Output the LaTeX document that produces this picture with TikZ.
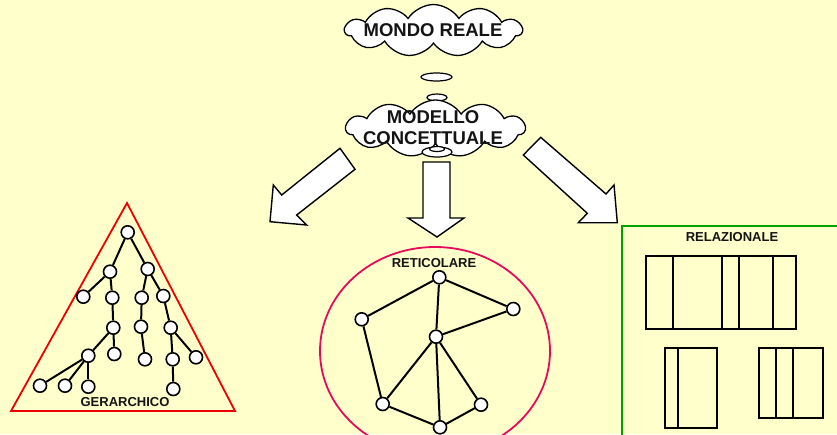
\documentclass[tikz,border=0pt]{standalone}
\usepackage{fontspec}
\setmainfont{Liberation Sans}
\usetikzlibrary{shapes.symbols,shapes.geometric}
\definecolor{bg}{RGB}{255,255,204}
\definecolor{tri}{RGB}{240,0,0}
\definecolor{ell}{RGB}{232,10,90}
\definecolor{grn}{RGB}{0,160,0}
\definecolor{ink}{RGB}{20,20,20}
\begin{document}
\begin{tikzpicture}[x=1pt,y=-1pt,
 cloudbox/.style={cloud, cloud puffs=11, cloud puff arc=115, cloud ignores aspect, draw=black, line width=1.3pt, fill=white, inner sep=0pt},
 bubble/.style={ellipse, draw=black, line width=1.2pt, fill=white, inner sep=0pt},
 bigtxt/.style={font=\fontsize{18.5}{21}\selectfont\bfseries, text=ink, align=center, inner sep=0pt},
 smalltxt/.style={font=\fontsize{13}{15}\selectfont\bfseries, text=ink, inner sep=0pt},
 blockarrow/.style={draw=black, line width=1.4pt, fill=white, line join=miter},
 vtx/.style={circle, draw=black, line width=1.6pt, fill=white, minimum size=13pt, inner sep=0pt},
 lnk/.style={line width=2pt, draw=black},
 tbl/.style={draw=black, line width=1.8pt}
]
\useasboundingbox (0,0) rectangle (837,434);
\clip (0,0) rectangle (837,434);
\fill[bg] (0,0) rectangle (837,434);

% clouds
\node[cloudbox, minimum width=177pt, minimum height=52pt] (c1) at (433.5,30.5) {};
\node[bigtxt] (t1) at (433,30) {MONDO REALE};
\node[bubble, minimum width=31pt, minimum height=8pt] (b1) at (436.5,77) {};
\node[bubble, minimum width=20pt, minimum height=7pt] (b2) at (437,97.5) {};
\node[cloudbox, minimum width=179pt, minimum height=57pt] (c2) at (435.5,128.5) {};
\node[bubble, minimum width=30pt, minimum height=10pt] (b3) at (437,152) {};
\node[bubble, minimum width=15pt, minimum height=5pt] (b4) at (437,149) {};
\node[bigtxt] (t2) at (433,127.5) {MODELLO\\CONCETTUALE};

% block arrows
\draw[blockarrow] (340,148.3) -- (355,169.3) -- (296.7,215) -- (306.7,225) -- (270,221.7)
  -- (273.3,185) -- (281.7,195) -- cycle;
\draw[blockarrow] (423,162) -- (450,162) -- (450,218) -- (464,218) -- (437,237)
  -- (408,218) -- (423,218) -- cycle;
\draw[blockarrow] (523.3,155) -- (540.7,137.3) -- (606,194) -- (614,185) -- (617.3,222.7)
  -- (578.3,222.7) -- (587.3,213.3) -- cycle;

% hierarchical
\draw[tri, line width=1.8pt, line join=miter] (127,203) -- (235,411) -- (11,411) -- cycle;
\node[smalltxt] (gl) at (125,402) {GERARCHICO};
\node[vtx] (r)  at (127.7,232.3) {};
\node[vtx] (a)  at (110,271.7) {};
\node[vtx] (b)  at (147.7,269) {};
\node[vtx] (a1) at (83.3,296.7) {};
\node[vtx] (a2) at (112.3,297.7) {};
\node[vtx] (b1n) at (141.7,297.7) {};
\node[vtx] (b2n) at (163.3,296) {};
\node[vtx] (a21) at (113.3,327.7) {};
\node[vtx] (b11) at (141,326.7) {};
\node[vtx] (b21) at (170.7,327.7) {};
\node[vtx] (a211) at (88.3,355.7) {};
\node[vtx] (a212) at (114.3,354) {};
\node[vtx] (b111) at (145,359.3) {};
\node[vtx] (b211) at (172.7,359.3) {};
\node[vtx] (b212) at (196,357.3) {};
\node[vtx] (l1) at (40,385.7) {};
\node[vtx] (l2) at (65,385.7) {};
\node[vtx] (l3) at (88.3,386.7) {};
\node[vtx] (l4) at (173.3,389) {};
\draw[lnk] (r) -- (a);
\draw[lnk] (r) -- (b);
\draw[lnk] (a) -- (a1);
\draw[lnk] (a) -- (a2);
\draw[lnk] (a2) -- (a21);
\draw[lnk] (a21) -- (a211);
\draw[lnk] (a21) -- (a212);
\draw[lnk] (a211) -- (l1);
\draw[lnk] (a211) -- (l2);
\draw[lnk] (a211) -- (l3);
\draw[lnk] (b) -- (b1n);
\draw[lnk] (b) -- (b2n);
\draw[lnk] (b1n) -- (b11);
\draw[lnk] (b11) -- (b111);
\draw[lnk] (b2n) -- (b21);
\draw[lnk] (b21) -- (b211);
\draw[lnk] (b21) -- (b212);
\draw[lnk] (b211) -- (l4);

% network
\draw[ell, line width=1.8pt] (435,351) ellipse [x radius=115, y radius=104];
\node[smalltxt] (nl) at (434,263.5) {RETICOLARE};
\node[vtx] (nA) at (439.3,277.3) {};
\node[vtx] (nB) at (361.7,319.3) {};
\node[vtx] (nC) at (513.3,309) {};
\node[vtx] (nD) at (436,336.7) {};
\node[vtx] (nE) at (382.7,404) {};
\node[vtx] (nF) at (481,404.7) {};
\node[vtx] (nG) at (440,427.3) {};
\draw[lnk] (nA) -- (nB);
\draw[lnk] (nA) -- (nC);
\draw[lnk] (nA) -- (nD);
\draw[lnk] (nC) -- (nD);
\draw[lnk] (nB) -- (nE);
\draw[lnk] (nD) -- (nE);
\draw[lnk] (nD) -- (nG);
\draw[lnk] (nD) -- (nF);
\draw[lnk] (nE) -- (nG);
\draw[lnk] (nG) -- (nF);

% relational
\draw[grn, line width=1.8pt] (621.7,225.7) rectangle (845,445);
\node[smalltxt] (rl) at (732,237) {RELAZIONALE};
\draw[tbl] (645.7,255.7) rectangle (796,329.3);
\draw[tbl] (672.7,255.7) -- (672.7,329.3);
\draw[tbl] (721.7,255.7) -- (721.7,329.3);
\draw[tbl] (739,255.7) -- (739,329.3);
\draw[tbl] (772.7,255.7) -- (772.7,329.3);
\draw[tbl] (665,348.3) rectangle (716.7,427.7);
\draw[tbl] (677.7,348.3) -- (677.7,427.7);
\draw[tbl] (759,347.7) rectangle (822.7,417.7);
\draw[tbl] (775.7,347.7) -- (775.7,417.7);
\draw[tbl] (792.7,347.7) -- (792.7,417.7);
\end{tikzpicture}
\end{document}
